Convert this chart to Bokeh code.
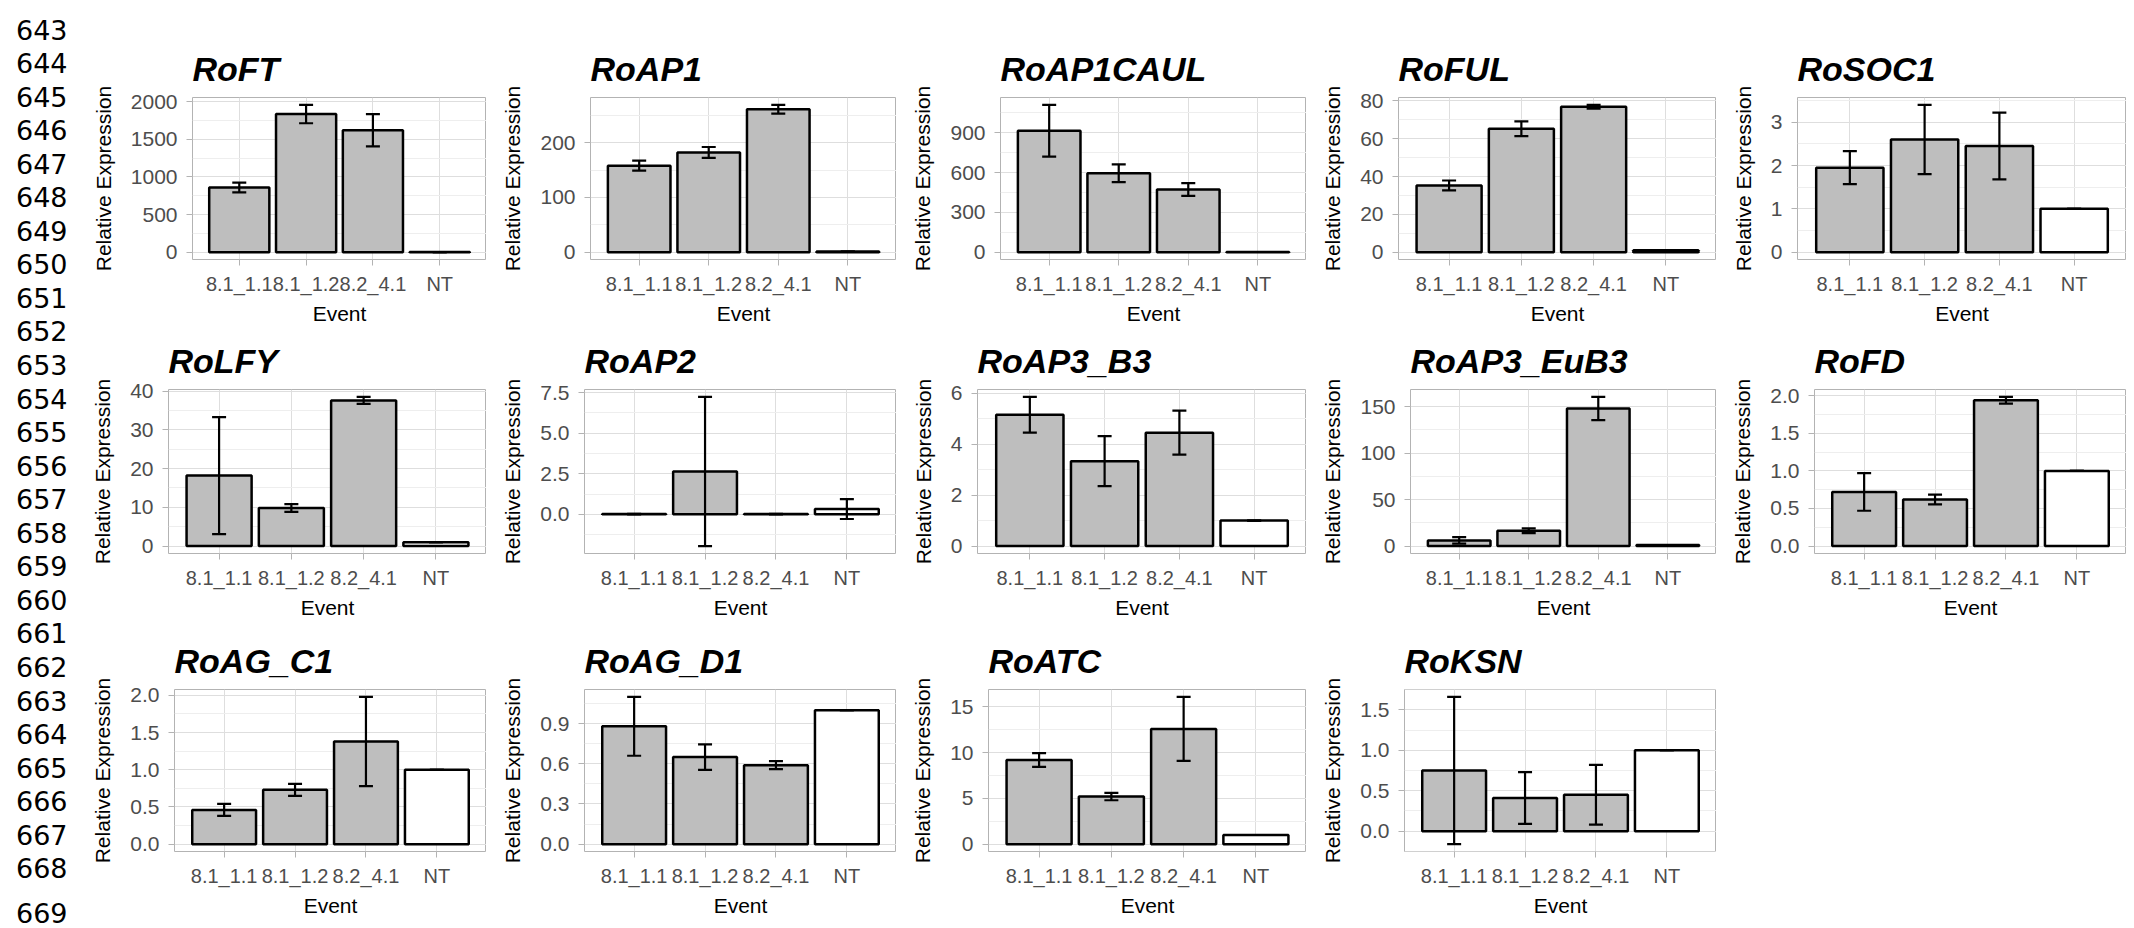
from bokeh.plotting import figure
from bokeh.models import (ColumnDataSource, FactorRange, Range1d, FixedTicker,
                          Whisker, TeeHead, Spacer)
from bokeh.layouts import row, column
from bokeh.embed import file_html
from bokeh.resources import INLINE
from bokeh.core.properties import value

# ---------------- data ----------------
events = ["8.1_1.1", "8.1_1.2", "8.2_4.1", "NT"]

genes = ["RoFT", "RoAP1", "RoAP1CAUL", "RoFUL", "RoSOC1",
         "RoLFY", "RoAP2", "RoAP3_B3", "RoAP3_EuB3", "RoFD",
         "RoAG_C1", "RoAG_D1", "RoATC", "RoKSN"]

RoFT_mean = [860, 1835, 1620, 1.0]
RoFT_se = [65, 122, 215, 0.0]
RoAP1_mean = [158, 182, 261, 1.0]
RoAP1_se = [9, 10, 8, 0.0]
RoAP1CAUL_mean = [915, 595, 472, 1.0]
RoAP1CAUL_se = [195, 67, 48, 0.0]
RoFUL_mean = [35.3, 65.3, 76.9, 1.0]
RoFUL_se = [2.6, 3.9, 1.0, 0.0]
RoSOC1_mean = [1.95, 2.60, 2.45, 1.0]
RoSOC1_se = [0.38, 0.80, 0.77, 0.0]
RoLFY_mean = [18.2, 9.8, 37.6, 1.0]
RoLFY_se = [15.1, 1.0, 0.9, 0.0]
RoAP2_mean = [0.01, 2.64, 0.01, 0.32]
RoAP2_se = [0.01, 4.60, 0.01, 0.61]
RoAP3_B3_mean = [5.15, 3.33, 4.45, 1.0]
RoAP3_B3_se = [0.70, 0.98, 0.86, 0.0]
RoAP3_EuB3_mean = [6.0, 16.5, 148, 1.0]
RoAP3_EuB3_se = [3.5, 2.6, 12.5, 0.0]
RoFD_mean = [0.72, 0.62, 1.94, 1.0]
RoFD_se = [0.25, 0.065, 0.045, 0.0]
RoAG_C1_mean = [0.46, 0.73, 1.38, 1.0]
RoAG_C1_se = [0.08, 0.08, 0.60, 0.0]
RoAG_D1_mean = [0.88, 0.65, 0.59, 1.0]
RoAG_D1_se = [0.22, 0.095, 0.03, 0.0]
RoATC_mean = [9.2, 5.2, 12.6, 1.0]
RoATC_se = [0.75, 0.40, 3.5, 0.0]
RoKSN_mean = [0.75, 0.41, 0.45, 1.0]
RoKSN_se = [0.91, 0.32, 0.37, 0.0]

RoFT_ticks = ["0", "500", "1000", "1500", "2000"]
RoAP1_ticks = ["0", "100", "200"]
RoAP1CAUL_ticks = ["0", "300", "600", "900"]
RoFUL_ticks = ["0", "20", "40", "60", "80"]
RoSOC1_ticks = ["0", "1", "2", "3"]
RoLFY_ticks = ["0", "10", "20", "30", "40"]
RoAP2_ticks = ["0.0", "2.5", "5.0", "7.5"]
RoAP3_B3_ticks = ["0", "2", "4", "6"]
RoAP3_EuB3_ticks = ["0", "50", "100", "150"]
RoFD_ticks = ["0.0", "0.5", "1.0", "1.5", "2.0"]
RoAG_C1_ticks = ["0.0", "0.5", "1.0", "1.5", "2.0"]
RoAG_D1_ticks = ["0.0", "0.3", "0.6", "0.9"]
RoATC_ticks = ["0", "5", "10", "15"]
RoKSN_ticks = ["0.0", "0.5", "1.0", "1.5"]

line_numbers = [str(n) for n in range(643, 670)]

means = {"RoFT": RoFT_mean, "RoAP1": RoAP1_mean, "RoAP1CAUL": RoAP1CAUL_mean,
         "RoFUL": RoFUL_mean, "RoSOC1": RoSOC1_mean, "RoLFY": RoLFY_mean,
         "RoAP2": RoAP2_mean, "RoAP3_B3": RoAP3_B3_mean, "RoAP3_EuB3": RoAP3_EuB3_mean,
         "RoFD": RoFD_mean, "RoAG_C1": RoAG_C1_mean, "RoAG_D1": RoAG_D1_mean,
         "RoATC": RoATC_mean, "RoKSN": RoKSN_mean}
ses = {"RoFT": RoFT_se, "RoAP1": RoAP1_se, "RoAP1CAUL": RoAP1CAUL_se,
       "RoFUL": RoFUL_se, "RoSOC1": RoSOC1_se, "RoLFY": RoLFY_se,
       "RoAP2": RoAP2_se, "RoAP3_B3": RoAP3_B3_se, "RoAP3_EuB3": RoAP3_EuB3_se,
       "RoFD": RoFD_se, "RoAG_C1": RoAG_C1_se, "RoAG_D1": RoAG_D1_se,
       "RoATC": RoATC_se, "RoKSN": RoKSN_se}
ticks = {"RoFT": RoFT_ticks, "RoAP1": RoAP1_ticks, "RoAP1CAUL": RoAP1CAUL_ticks,
         "RoFUL": RoFUL_ticks, "RoSOC1": RoSOC1_ticks, "RoLFY": RoLFY_ticks,
         "RoAP2": RoAP2_ticks, "RoAP3_B3": RoAP3_B3_ticks, "RoAP3_EuB3": RoAP3_EuB3_ticks,
         "RoFD": RoFD_ticks, "RoAG_C1": RoAG_C1_ticks, "RoAG_D1": RoAG_D1_ticks,
         "RoATC": RoATC_ticks, "RoKSN": RoKSN_ticks}

# ---------------- style ----------------
FONT = "Liberation Sans"
BAR_FILL = "#BEBEBE"
NT_FILL = "#FFFFFF"
BORDER = "#B3B3B3"
GRID = "#DEDEDE"
MINOR = "#EEEEEE"
TICK_TXT = "#4D4D4D"

FIG_W = 398
FRAME_H = 164
COL_GAP = 12
LN_W = 88


def make_panel(gene, top_border, bottom_border):
    m = means[gene]
    s = ses[gene]
    upper = [a + b for a, b in zip(m, s)]
    lower = [a - b for a, b in zip(m, s)]
    lo = min(0.0, min(lower))
    hi = max(max(upper), max(m))
    span = hi - lo
    y0, y1 = lo - 0.05 * span, hi + 0.05 * span

    src = ColumnDataSource(dict(event=events, mean=m, upper=upper, lower=lower,
                                fill=[BAR_FILL, BAR_FILL, BAR_FILL, NT_FILL]))

    p = figure(width=FIG_W, height=top_border + FRAME_H + bottom_border,
               x_range=FactorRange(factors=events, range_padding=0.2,
                                   range_padding_units="absolute"),
               y_range=Range1d(y0, y1),
               toolbar_location=None, output_backend="svg",
               min_border_left=0, min_border_right=0,
               min_border_top=top_border, min_border_bottom=bottom_border)
    p.title.text = gene
    p.title.text_font = FONT
    p.title.text_font_style = "bold italic"
    p.title.text_font_size = "34px"
    p.title.align = "left"
    p.title.standoff = 20
    p.title.text_color = "black"

    p.outline_line_color = BORDER
    p.outline_line_width = 1
    p.background_fill_color = "white"

    labels = ticks[gene]
    tv = [float(t) for t in labels]
    step = tv[1] - tv[0]
    minors = [t - step / 2 for t in tv] + [tv[-1] + step / 2]
    minors = [v for v in minors if y0 <= v <= y1]
    tk = FixedTicker(ticks=tv, minor_ticks=minors)
    p.yaxis[0].ticker = tk
    p.ygrid[0].ticker = tk
    p.yaxis.major_label_overrides = {v: l for v, l in zip(tv, labels)}

    p.xgrid.grid_line_color = GRID
    p.ygrid.grid_line_color = GRID
    p.ygrid.minor_grid_line_color = MINOR

    for ax in (p.xaxis[0], p.yaxis[0]):
        ax.axis_line_color = None
        ax.major_tick_line_color = BORDER
        ax.major_tick_out = 6
        ax.major_tick_in = 0
        ax.minor_tick_line_color = None
        ax.major_label_text_font = FONT
        ax.major_label_text_color = TICK_TXT
        ax.axis_label_text_font = FONT
        ax.axis_label_text_font_size = "21px"
        ax.axis_label_text_font_style = "normal"
        ax.axis_label_text_color = "black"

    p.yaxis.major_label_text_font_size = "21px"
    p.xaxis.major_label_text_font_size = "20px"
    p.yaxis.axis_label = "Relative Expression"
    p.yaxis.major_label_standoff = 9
    p.yaxis.axis_label_standoff = 13
    p.xaxis.axis_label = "Event"
    p.xaxis.major_label_standoff = 7
    p.xaxis.axis_label_standoff = 4

    p.vbar(x="event", top="mean", bottom=0, width=0.9, source=src,
           fill_color="fill", line_color="black", line_width=2.5)

    w = Whisker(source=src, base="event", upper="upper", lower="lower",
                dimension="height", line_color="black", line_width=2.2,
                upper_head=TeeHead(size=14, line_color="black", line_width=2.2),
                lower_head=TeeHead(size=14, line_color="black", line_width=2.2),
                level="overlay")
    p.add_layout(w)
    return p


rows_genes = [genes[0:5], genes[5:10], genes[10:14]]
row_borders = [(66, 66), (62, 70), (66, 66)]
grid_rows = []
for rg, (tb, bb) in zip(rows_genes, row_borders):
    grid_rows.append(row([make_panel(g, tb, bb) for g in rg], spacing=COL_GAP))

# line numbers column (page coordinates, top-down)
LN_H = 927
ln = figure(width=LN_W, height=LN_H, x_range=Range1d(0, LN_W), y_range=Range1d(LN_H, 0),
            toolbar_location=None, output_backend="svg", min_border=0)
ln.axis.visible = False
ln.grid.visible = False
ln.outline_line_color = None
ln_base = [29 + i * 33.55 for i in range(len(line_numbers) - 1)] + [LN_H - 15]
ln.text(x=[15.5] * len(line_numbers), y=ln_base, text=line_numbers,
        text_font=value("DejaVu Sans"), text_font_size="27px",
        text_baseline="alphabetic", text_align="left", text_color="black")

layout = row(ln, column(Spacer(height=31, width=10), *grid_rows, spacing=0), spacing=0)

open("out.html", "w").write(file_html(layout, INLINE))
